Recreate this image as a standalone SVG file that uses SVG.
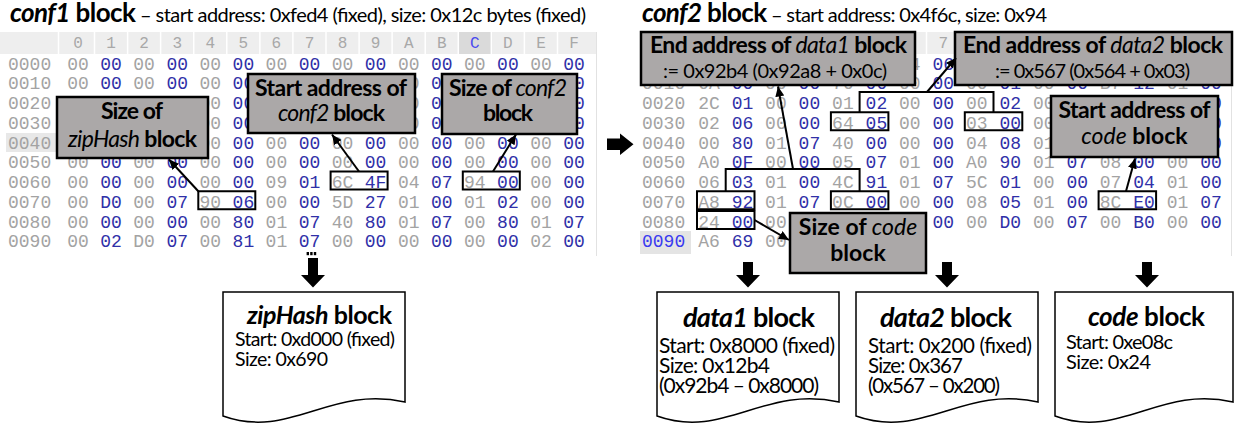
<svg xmlns="http://www.w3.org/2000/svg" xmlns:xlink="http://www.w3.org/1999/xlink" width="1244" height="427" viewBox="0 0 1244 427">
<style>
.hx{font-family:"Liberation Mono",monospace;font-size:18px;text-anchor:middle}
.g{fill:#a3a3a3}
.b{fill:#3030a8}
.lbl{font-family:"Liberation Mono",monospace;font-size:18px;fill:#a3a3a3}
.hd{font-family:"Liberation Mono",monospace;font-size:16px;fill:#a8a8a8;text-anchor:middle}
.co{fill:#aba8a8;stroke:#000;stroke-width:2.5}
.ct{font-family:Lato,"Liberation Sans",sans-serif;font-weight:bold;font-size:23px;fill:#000}
.cm{text-anchor:middle}
.cs{font-family:Lato,"Liberation Sans",sans-serif;font-weight:normal;font-size:20px;fill:#000}
.it{font-style:italic;font-weight:normal}
.bi{font-style:italic;font-weight:bold}
.hl{fill:none;stroke:#000;stroke-width:2}
.cn{fill:none;stroke:#000;stroke-width:2}
.doc{fill:#fff;stroke:#000;stroke-width:1.5}
.dt{font-family:Lato,"Liberation Sans",sans-serif;font-weight:bold;fill:#000}
.dl{font-family:Lato,"Liberation Sans",sans-serif;fill:#000}
.tt{font-family:Lato,"Liberation Sans",sans-serif;fill:#000}
</style>
<defs>
<marker id="ah" markerUnits="userSpaceOnUse" markerWidth="11" markerHeight="10" refX="10" refY="4.5" orient="auto"><path d="M0,0 L10,4.5 L0,9 z" fill="#000"/></marker>
<g id="zL">
<text class="hx g"><tspan x="78">00</tspan><tspan x="144.1">00</tspan><tspan x="210.3">00</tspan><tspan x="276.4">00</tspan><tspan x="342.6">00</tspan><tspan x="408.7">00</tspan><tspan x="474.8">00</tspan><tspan x="541">00</tspan></text>
<text class="hx b"><tspan x="111.1">00</tspan><tspan x="177.2">00</tspan><tspan x="243.4">00</tspan><tspan x="309.5">00</tspan><tspan x="375.6">00</tspan><tspan x="441.8">00</tspan><tspan x="507.9">00</tspan><tspan x="574.1">00</tspan></text>
</g>
</defs>
<rect width="1244" height="427" fill="#fff"/>

<!-- titles -->
<text class="tt" x="10" y="22" textLength="576"><tspan class="bi" font-size="26">conf1</tspan><tspan font-weight="bold" font-size="26"> block</tspan><tspan font-size="20"> – start address: 0xfed4 (fixed), size: 0x12c bytes (fixed)</tspan></text>
<text class="tt" x="642" y="22" textLength="405"><tspan class="bi" font-size="26">conf2</tspan><tspan font-weight="bold" font-size="26"> block</tspan><tspan font-size="20"> – start address: 0x4f6c, size: 0x94</tspan></text>

<!-- conf1 hex dump -->
<g id="conf1-dump">
<rect x="0" y="32" width="597" height="22" fill="#eeeeee"/>
<rect x="458.3" y="32" width="33" height="22" fill="#dadada"/>
<g stroke="#fff" stroke-width="1.5">
<line x1="58.5" y1="32" x2="58.5" y2="54"/><line x1="94.5" y1="32" x2="94.5" y2="54"/><line x1="127.6" y1="32" x2="127.6" y2="54"/><line x1="160.6" y1="32" x2="160.6" y2="54"/><line x1="193.7" y1="32" x2="193.7" y2="54"/><line x1="226.8" y1="32" x2="226.8" y2="54"/><line x1="259.9" y1="32" x2="259.9" y2="54"/><line x1="292.9" y1="32" x2="292.9" y2="54"/><line x1="326" y1="32" x2="326" y2="54"/><line x1="359.1" y1="32" x2="359.1" y2="54"/><line x1="392.1" y1="32" x2="392.1" y2="54"/><line x1="425.2" y1="32" x2="425.2" y2="54"/><line x1="458.3" y1="32" x2="458.3" y2="54"/><line x1="491.3" y1="32" x2="491.3" y2="54"/><line x1="524.4" y1="32" x2="524.4" y2="54"/><line x1="557.5" y1="32" x2="557.5" y2="54"/>
</g>
<line x1="596.5" y1="32" x2="596.5" y2="256" stroke="#e2e2e2" stroke-width="1"/>
<text class="hd" y="48"><tspan x="78">0</tspan><tspan x="111.1">1</tspan><tspan x="144.1">2</tspan><tspan x="177.2">3</tspan><tspan x="210.3">4</tspan><tspan x="243.4">5</tspan><tspan x="276.4">6</tspan><tspan x="309.5">7</tspan><tspan x="342.6">8</tspan><tspan x="375.6">9</tspan><tspan x="408.7">A</tspan><tspan x="441.8">B</tspan><tspan x="474.8" fill="#4a4aee">C</tspan><tspan x="507.9">D</tspan><tspan x="541">E</tspan><tspan x="574.1">F</tspan></text>
<rect x="6" y="133" width="52" height="19" fill="#e8e8e8"/>
<text class="lbl"><tspan x="8" y="69.5">0000</tspan><tspan x="8" y="89.25">0010</tspan><tspan x="8" y="109">0020</tspan><tspan x="8" y="128.75">0030</tspan><tspan x="8" y="148.5">0040</tspan><tspan x="8" y="168.25">0050</tspan><tspan x="8" y="188">0060</tspan><tspan x="8" y="207.75">0070</tspan><tspan x="8" y="227.5">0080</tspan><tspan x="8" y="247.25">0090</tspan></text>
<use href="#zL" y="69.5"/>
<text class="hx g" y="89.25"><tspan x="78">00</tspan><tspan x="144.1">00</tspan><tspan x="210.3">00</tspan><tspan x="408.7">00</tspan></text>
<text class="hx b" y="89.25"><tspan x="111.1">00</tspan><tspan x="177.2">00</tspan><tspan x="243.4">00</tspan><tspan x="441.8">00</tspan><tspan x="574.1">00</tspan></text>
<text class="hx g" y="109"><tspan x="210.3">00</tspan><tspan x="408.7">00</tspan></text>
<text class="hx b" y="109"><tspan x="243.4">00</tspan><tspan x="441.8">00</tspan><tspan x="574.1">00</tspan></text>
<text class="hx g" y="128.75"><tspan x="210.3">00</tspan><tspan x="408.7">00</tspan></text>
<text class="hx b" y="128.75"><tspan x="243.4">00</tspan><tspan x="441.8">00</tspan><tspan x="574.1">00</tspan></text>
<text class="hx g" y="148.5"><tspan x="210.3">00</tspan><tspan x="276.4">00</tspan><tspan x="342.6">00</tspan><tspan x="408.7">00</tspan><tspan x="474.8">00</tspan><tspan x="541">00</tspan></text>
<text class="hx b" y="148.5"><tspan x="243.4">00</tspan><tspan x="309.5">00</tspan><tspan x="375.6">00</tspan><tspan x="441.8">00</tspan><tspan x="507.9">00</tspan><tspan x="574.1">00</tspan></text>
<use href="#zL" y="168.25"/>
<text class="hx g" y="188"><tspan x="78">00</tspan><tspan x="144.1">00</tspan><tspan x="210.3">00</tspan><tspan x="276.4">09</tspan><tspan x="342.6">6C</tspan><tspan x="408.7">04</tspan><tspan x="474.8">94</tspan><tspan x="541">00</tspan></text>
<text class="hx b" y="188"><tspan x="111.1">00</tspan><tspan x="177.2">00</tspan><tspan x="243.4">00</tspan><tspan x="309.5">01</tspan><tspan x="375.6">4F</tspan><tspan x="441.8">07</tspan><tspan x="507.9">00</tspan><tspan x="574.1">00</tspan></text>
<text class="hx g" y="207.75"><tspan x="78">00</tspan><tspan x="144.1">00</tspan><tspan x="210.3">90</tspan><tspan x="276.4">00</tspan><tspan x="342.6">5D</tspan><tspan x="408.7">01</tspan><tspan x="474.8">01</tspan><tspan x="541">00</tspan></text>
<text class="hx b" y="207.75"><tspan x="111.1">D0</tspan><tspan x="177.2">07</tspan><tspan x="243.4">06</tspan><tspan x="309.5">00</tspan><tspan x="375.6">27</tspan><tspan x="441.8">00</tspan><tspan x="507.9">02</tspan><tspan x="574.1">00</tspan></text>
<text class="hx g" y="227.5"><tspan x="78">00</tspan><tspan x="144.1">00</tspan><tspan x="210.3">00</tspan><tspan x="276.4">01</tspan><tspan x="342.6">40</tspan><tspan x="408.7">01</tspan><tspan x="474.8">00</tspan><tspan x="541">01</tspan></text>
<text class="hx b" y="227.5"><tspan x="111.1">00</tspan><tspan x="177.2">00</tspan><tspan x="243.4">80</tspan><tspan x="309.5">07</tspan><tspan x="375.6">80</tspan><tspan x="441.8">07</tspan><tspan x="507.9">80</tspan><tspan x="574.1">07</tspan></text>
<text class="hx g" y="247.25"><tspan x="78">00</tspan><tspan x="144.1">D0</tspan><tspan x="210.3">00</tspan><tspan x="276.4">01</tspan><tspan x="342.6">00</tspan><tspan x="408.7">00</tspan><tspan x="474.8">00</tspan><tspan x="541">02</tspan></text>
<text class="hx b" y="247.25"><tspan x="111.1">02</tspan><tspan x="177.2">07</tspan><tspan x="243.4">81</tspan><tspan x="309.5">07</tspan><tspan x="375.6">00</tspan><tspan x="441.8">00</tspan><tspan x="507.9">00</tspan><tspan x="574.1">00</tspan></text>
<rect class="hl" x="198.3" y="191.25" width="57" height="18"/>
<rect class="hl" x="330.6" y="171.5" width="57" height="18"/>
<rect class="hl" x="462.8" y="171.5" width="57" height="18"/>
</g>

<!-- conf2 hex dump -->
<g id="conf2-dump">
<rect x="640" y="32" width="592" height="22" fill="#eeeeee"/>
<g stroke="#fff" stroke-width="1.5">
<line x1="926.5" y1="32" x2="926.5" y2="54"/><line x1="960" y1="32" x2="960" y2="54"/>
</g>
<line x1="1231.5" y1="32" x2="1231.5" y2="256" stroke="#e2e2e2" stroke-width="1"/>
<text class="hd" x="943.3" y="48">7</text>
<rect x="640" y="231" width="51" height="23" fill="#e4e4e4"/>
<text class="lbl"><tspan x="642" y="89.25">0010</tspan><tspan x="642" y="109">0020</tspan><tspan x="642" y="128.75">0030</tspan><tspan x="642" y="148.5">0040</tspan><tspan x="642" y="168.25">0050</tspan><tspan x="642" y="188">0060</tspan><tspan x="642" y="207.75">0070</tspan><tspan x="642" y="227.5">0080</tspan><tspan x="642" y="247.25" fill="#3a3af0">0090</tspan></text>
<text class="hx g" x="909.8" y="69.5">04</text>
<text class="hx b" x="943.3" y="69.5">06</text>
<text class="hx g" y="89.25"><tspan x="709">0A</tspan><tspan x="775.9">00</tspan><tspan x="842.9">70</tspan><tspan x="909.8">00</tspan><tspan x="976.8">00</tspan><tspan x="1043.7">00</tspan><tspan x="1110.6">B7</tspan><tspan x="1177.6">01</tspan></text>
<text class="hx b" y="89.25"><tspan x="742.5">00</tspan><tspan x="809.4">00</tspan><tspan x="876.4">00</tspan><tspan x="943.3">00</tspan><tspan x="1010.2">01</tspan><tspan x="1077.2">00</tspan><tspan x="1144.1">12</tspan><tspan x="1211.1">00</tspan></text>
<text class="hx g" y="109"><tspan x="709">2C</tspan><tspan x="775.9">00</tspan><tspan x="842.9">01</tspan><tspan x="909.8">00</tspan><tspan x="976.8">00</tspan><tspan x="1043.7">00</tspan></text>
<text class="hx b" y="109"><tspan x="742.5">01</tspan><tspan x="809.4">00</tspan><tspan x="876.4">02</tspan><tspan x="943.3">00</tspan><tspan x="1010.2">02</tspan><tspan x="1211.1">00</tspan></text>
<text class="hx g" y="128.75"><tspan x="709">02</tspan><tspan x="775.9">00</tspan><tspan x="842.9">64</tspan><tspan x="909.8">00</tspan><tspan x="976.8">03</tspan><tspan x="1043.7">00</tspan></text>
<text class="hx b" y="128.75"><tspan x="742.5">06</tspan><tspan x="809.4">00</tspan><tspan x="876.4">05</tspan><tspan x="943.3">00</tspan><tspan x="1010.2">00</tspan><tspan x="1211.1">00</tspan></text>
<text class="hx g" y="148.5"><tspan x="709">00</tspan><tspan x="775.9">01</tspan><tspan x="842.9">40</tspan><tspan x="909.8">00</tspan><tspan x="976.8">04</tspan><tspan x="1043.7">01</tspan></text>
<text class="hx b" y="148.5"><tspan x="742.5">80</tspan><tspan x="809.4">07</tspan><tspan x="876.4">00</tspan><tspan x="943.3">00</tspan><tspan x="1010.2">08</tspan><tspan x="1211.1">00</tspan></text>
<text class="hx g" y="168.25"><tspan x="709">A0</tspan><tspan x="775.9">00</tspan><tspan x="842.9">05</tspan><tspan x="909.8">01</tspan><tspan x="976.8">A0</tspan><tspan x="1043.7">01</tspan><tspan x="1110.6">08</tspan><tspan x="1177.6">00</tspan></text>
<text class="hx b" y="168.25"><tspan x="742.5">0F</tspan><tspan x="809.4">00</tspan><tspan x="876.4">07</tspan><tspan x="943.3">00</tspan><tspan x="1010.2">90</tspan><tspan x="1077.2">07</tspan><tspan x="1144.1">00</tspan><tspan x="1211.1">00</tspan></text>
<text class="hx g" y="188"><tspan x="709">06</tspan><tspan x="775.9">01</tspan><tspan x="842.9">4C</tspan><tspan x="909.8">01</tspan><tspan x="976.8">5C</tspan><tspan x="1043.7">00</tspan><tspan x="1110.6">07</tspan><tspan x="1177.6">01</tspan></text>
<text class="hx b" y="188"><tspan x="742.5">03</tspan><tspan x="809.4">00</tspan><tspan x="876.4">91</tspan><tspan x="943.3">07</tspan><tspan x="1010.2">01</tspan><tspan x="1077.2">00</tspan><tspan x="1144.1">04</tspan><tspan x="1211.1">00</tspan></text>
<text class="hx g" y="207.75"><tspan x="709">A8</tspan><tspan x="775.9">01</tspan><tspan x="842.9">0C</tspan><tspan x="909.8">00</tspan><tspan x="976.8">08</tspan><tspan x="1043.7">01</tspan><tspan x="1110.6">8C</tspan><tspan x="1177.6">01</tspan></text>
<text class="hx b" y="207.75"><tspan x="742.5">92</tspan><tspan x="809.4">07</tspan><tspan x="876.4">00</tspan><tspan x="943.3">00</tspan><tspan x="1010.2">05</tspan><tspan x="1077.2">00</tspan><tspan x="1144.1">E0</tspan><tspan x="1211.1">07</tspan></text>
<text class="hx g" y="227.5"><tspan x="709">24</tspan><tspan x="775.9">00</tspan><tspan x="976.8">00</tspan><tspan x="1043.7">00</tspan><tspan x="1110.6">00</tspan><tspan x="1177.6">00</tspan></text>
<text class="hx b" y="227.5"><tspan x="742.5">00</tspan><tspan x="943.3">00</tspan><tspan x="1010.2">D0</tspan><tspan x="1077.2">07</tspan><tspan x="1144.1">B0</tspan><tspan x="1211.1">00</tspan></text>
<text class="hx g" y="247.25"><tspan x="709">A6</tspan><tspan x="775.9">00</tspan></text>
<text class="hx b" x="742.5" y="247.25">69</text>
<rect class="hl" x="830.9" y="112.25" width="57.5" height="18"/>
<rect class="hl" x="964.8" y="112.25" width="57.5" height="18"/>
<rect class="hl" x="697" y="191.25" width="57.5" height="18"/>
<rect class="hl" x="830.9" y="191.25" width="57.5" height="18"/>
<rect class="hl" x="697" y="211" width="57.5" height="18"/>
<rect class="hl" x="1098.6" y="191.25" width="57.5" height="18"/>
</g>

<!-- callouts -->
<g id="size-ziphash">
<rect class="co" x="57" y="97" width="151" height="61"/>
<text class="ct" x="101" y="119" textLength="62">Size of</text>
<text class="ct" x="68" y="147" textLength="129"><tspan class="it">zipHash</tspan> block</text>
</g>
<g id="start-conf2">
<rect class="co" x="248" y="74" width="167" height="59"/>
<text class="ct" x="255" y="96" textLength="152">Start address of</text>
<text class="ct" x="278" y="121" textLength="107"><tspan class="it">conf2</tspan> block</text>
</g>
<g id="size-conf2">
<rect class="co" x="442" y="74" width="135" height="60"/>
<text class="ct" x="449" y="96" textLength="118">Size of <tspan class="it">conf2</tspan></text>
<text class="ct" x="483" y="121" textLength="50">block</text>
</g>
<g id="end-data1">
<rect class="co" x="641" y="32" width="274" height="53"/>
<text class="ct" x="650" y="53" textLength="257">End address of <tspan class="it">data1</tspan> block</text>
<text class="cs" x="663" y="78" textLength="224">:= 0x92b4 (0x92a8 + 0x0c)</text>
</g>
<g id="end-data2">
<rect class="co" x="955" y="32" width="277" height="53"/>
<text class="ct" x="963" y="53" textLength="260">End address of <tspan class="it">data2</tspan> block</text>
<text class="cs" x="995" y="78" textLength="195">:= 0x567 (0x564 + 0x03)</text>
</g>
<g id="start-code">
<rect class="co" x="1051" y="96" width="167" height="61"/>
<text class="ct" x="1058.5" y="118" textLength="152">Start address of</text>
<text class="ct cm" x="1134.5" y="144"><tspan class="it">code</tspan> block</text>
</g>
<g id="size-code">
<rect class="co" x="790" y="213" width="136" height="60"/>
<text class="ct cm" x="858" y="235">Size of <tspan class="it">code</tspan></text>
<text class="ct cm" x="858" y="261">block</text>
</g>

<!-- block arrows -->
<g id="block-arrows" fill="#000">
<polygon points="607,138.5 620,138.5 620,133.5 633.5,144.2 620,155 620,150 607,150"/>
<rect x="306.6" y="252" width="2.4" height="3.2"/><rect x="310.2" y="252" width="2.4" height="3.2"/><rect x="313.8" y="252" width="2.4" height="3.2"/>
<polygon points="308,258 318,258 318,275 325,275 313,287.5 301,275 308,275"/>
<polygon points="743,262 753,262 753,275 760,275 748,287.5 736,275 743,275"/>
<polygon points="942,262 952,262 952,275 959,275 947,287.5 935,275 942,275"/>
<polygon points="1142,262 1152,262 1152,275 1159,275 1147,287.5 1135,275 1142,275"/>
</g>

<!-- documents -->
<g id="ziphash-doc">
<path class="doc" d="M223,292 H405 V402 C330,385 290,440 223,416 Z"/>
<text class="dt" x="247" y="324" font-size="25" textLength="145"><tspan class="bi">zipHash</tspan> block</text>
<text class="dl" x="235" y="346" font-size="19.5" textLength="160">Start: 0xd000 (fixed)</text>
<text class="dl" x="235" y="366" font-size="19.5" textLength="93">Size: 0x690</text>
</g>
<g id="data1-doc">
<path class="doc" d="M657,292 H839 V402 C764,385 724,440 657,416 Z"/>
<text class="dt" x="683" y="327" font-size="27" textLength="132"><tspan class="bi">data1</tspan> block</text>
<text class="dl" x="659" y="353" font-size="21" textLength="176">Start: 0x8000 (fixed)</text>
<text class="dl" x="659" y="373" font-size="21" textLength="111">Size: 0x12b4</text>
<text class="dl" x="659" y="393" font-size="21" textLength="160">(0x92b4 – 0x8000)</text>
</g>
<g id="data2-doc">
<path class="doc" d="M856,292 H1038 V402 C963,385 923,440 856,416 Z"/>
<text class="dt" x="880" y="327" font-size="27" textLength="132"><tspan class="bi">data2</tspan> block</text>
<text class="dl" x="868" y="353" font-size="20.5" textLength="164">Start: 0x200 (fixed)</text>
<text class="dl" x="868" y="373" font-size="20.5" textLength="95">Size: 0x367</text>
<text class="dl" x="868" y="393" font-size="20.5" textLength="132">(0x567 – 0x200)</text>
</g>
<g id="code-doc">
<path class="doc" d="M1055,292 H1233 V402 C1160,385 1120,440 1055,416 Z"/>
<text class="dt" x="1088" y="326" font-size="26" textLength="117"><tspan class="bi">code</tspan> block</text>
<text class="dl" x="1066" y="349" font-size="20" textLength="107">Start: 0xe08c</text>
<text class="dl" x="1066" y="369" font-size="20" textLength="85">Size: 0x24</text>
</g>

<!-- connectors -->
<g id="connectors">
<polyline class="cn" points="859.6,112.25 859.6,92 993.5,92 993.5,112.25"/>
<polyline class="cn" points="725.7,191.25 725.7,169 859.6,169 859.6,191.25"/>
<line class="cn" x1="198.3" y1="191.25" x2="169" y2="159.5" marker-end="url(#ah)"/>
<line class="cn" x1="359" y1="171.5" x2="332" y2="134.5" marker-end="url(#ah)"/>
<line class="cn" x1="493" y1="171.5" x2="516" y2="134.5" marker-end="url(#ah)"/>
<line class="cn" x1="793" y1="169" x2="778" y2="86.5" marker-end="url(#ah)"/>
<line class="cn" x1="927" y1="92" x2="956" y2="58" marker-end="url(#ah)"/>
<line class="cn" x1="1126" y1="191.25" x2="1135" y2="158.5" marker-end="url(#ah)"/>
<line class="cn" x1="754.5" y1="220" x2="789" y2="240" marker-end="url(#ah)"/>
</g>
</svg>
